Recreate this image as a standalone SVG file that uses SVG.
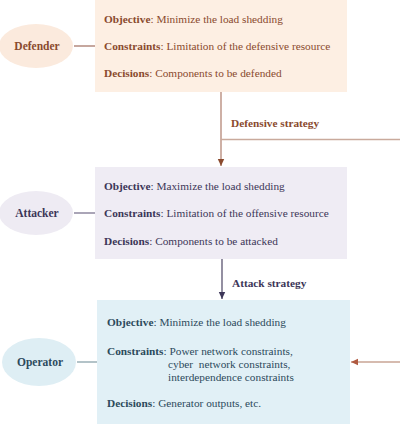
<svg xmlns="http://www.w3.org/2000/svg" width="400" height="424" viewBox="0 0 400 424">
<style>
text{font-family:'Liberation Serif',Tinos,'DejaVu Serif',serif;font-size:11.3px}
.b{font-weight:bold}
.d{fill:#8a4a2e}
.a{fill:#3c3658}
.o{fill:#2c4a5c}
.lab{font-weight:bold;text-anchor:middle;font-size:11.5px}
</style>
<defs>
<marker id="ab" markerWidth="8" markerHeight="8" refX="7" refY="4" orient="auto" markerUnits="userSpaceOnUse"><path d="M0,0.8 L7,4 L0,7.2 Z" fill="#8a4a2e"/></marker>
<marker id="aa" markerWidth="8" markerHeight="8" refX="7" refY="4" orient="auto" markerUnits="userSpaceOnUse"><path d="M0,0.8 L7,4 L0,7.2 Z" fill="#3c3658"/></marker>
<marker id="ar" markerWidth="8" markerHeight="8" refX="7" refY="4" orient="auto" markerUnits="userSpaceOnUse"><path d="M0,0.8 L7,4 L0,7.2 Z" fill="#b05a40"/></marker>
</defs>
<g id="defender">
<ellipse cx="36" cy="46" rx="37" ry="22" fill="#fbeadd"/>
<text class="lab d" x="37" y="50">Defender</text>
<rect x="95" y="0" width="252" height="92" fill="#fdefe3"/>
<text class="d" x="104" y="23"><tspan class="b">Objective</tspan>: Minimize the load shedding</text>
<text class="d" x="104" y="50"><tspan class="b">Constraints</tspan>: Limitation of the defensive resource</text>
<text class="d" x="104" y="77"><tspan class="b">Decisions</tspan>: Components to be defended</text>
</g>
<g id="attacker">
<ellipse cx="36" cy="213" rx="37" ry="22" fill="#eeebf3"/>
<text class="lab a" x="37" y="217">Attacker</text>
<rect x="95" y="167" width="252" height="92" fill="#efecf4"/>
<text class="a" x="104" y="190"><tspan class="b">Objective</tspan>: Maximize the load shedding</text>
<text class="a" x="104" y="217"><tspan class="b">Constraints</tspan>: Limitation of the offensive resource</text>
<text class="a" x="104" y="245"><tspan class="b">Decisions</tspan>: Components to be attacked</text>
</g>
<g id="operator">
<ellipse cx="39" cy="362" rx="37" ry="24" fill="#deeef4"/>
<text class="lab o" x="40" y="366">Operator</text>
<rect x="97" y="300" width="253" height="124" fill="#e1f0f6"/>
<text class="o" x="107" y="326"><tspan class="b">Objective</tspan>: Minimize the load shedding</text>
<text class="o" x="107" y="355"><tspan class="b">Constraints</tspan>: Power network constraints,</text>
<text class="o" x="168" y="368" xml:space="preserve">cyber  network constraints,</text>
<text class="o" x="168" y="381">interdependence constraints</text>
<text class="o" x="107" y="407"><tspan class="b">Decisions</tspan>: Generator outputs, etc.</text>
</g>
<g id="connectors" fill="none" stroke-width="1.3">
<line x1="74" y1="46" x2="95" y2="46" stroke="#a8786a"/>
<line x1="74" y1="213" x2="95" y2="213" stroke="#7c7490"/>
<line x1="77" y1="362" x2="97" y2="362" stroke="#8aa2aa"/>
<line x1="221" y1="92" x2="221" y2="166" stroke="#b48676" marker-end="url(#ab)"/>
<line x1="221" y1="139.5" x2="400" y2="139.5" stroke="#c9aa9c"/>
<line x1="222" y1="259" x2="222" y2="299" stroke="#5a5470" marker-end="url(#aa)"/>
<line x1="400" y1="362" x2="351" y2="362" stroke="#c9a595" marker-end="url(#ar)"/>
</g>
<g id="labels">
<text class="b d" x="231" y="127">Defensive strategy</text>
<text class="b a" x="232" y="287">Attack strategy</text>
</g>
</svg>
